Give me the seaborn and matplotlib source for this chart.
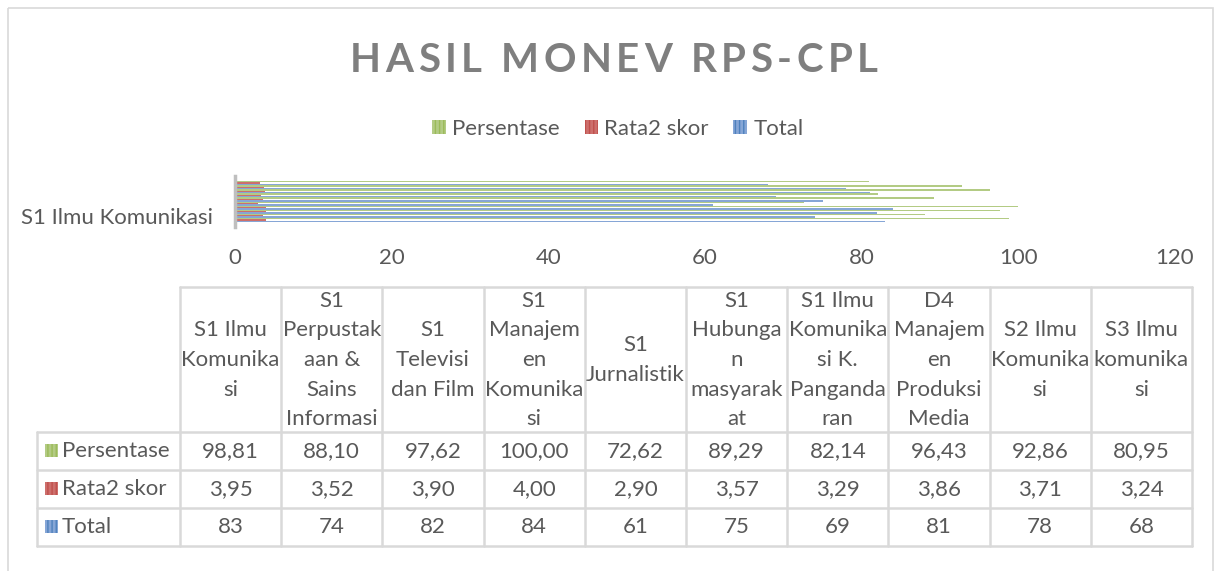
import numpy as np
import pandas as pd
import matplotlib
matplotlib.use("Agg")
import matplotlib.pyplot as plt
import seaborn as sns
from matplotlib.patches import Patch, Rectangle

# data
programs = [
    "S1 Ilmu Komunikasi", "S1 Perpustakaan & Sains Informasi", "S1 Televisi dan Film",
    "S1 Manajemen Komunikasi", "S1 Jurnalistik", "S1 Hubungan masyarakat",
    "S1 Ilmu Komunikasi K. Pangandaran", "D4 Manajemen Produksi Media",
    "S2 Ilmu Komunikasi", "S3 Ilmu komunikasi",
]
header_labels = [
    "S1 Ilmu\nKomunika\nsi", "S1\nPerpustak\naan &\nSains\nInformasi", "S1\nTelevisi\ndan Film",
    "S1\nManajem\nen\nKomunika\nsi", "S1\nJurnalistik", "S1\nHubunga\nn\nmasyarak\nat",
    "S1 Ilmu\nKomunika\nsi K.\nPanganda\nran", "D4\nManajem\nen\nProduksi\nMedia",
    "S2 Ilmu\nKomunika\nsi", "S3 Ilmu\nkomunika\nsi",
]
persentase = [98.81, 88.10, 97.62, 100.00, 72.62, 89.29, 82.14, 96.43, 92.86, 80.95]
rata2_skor = [3.95, 3.52, 3.90, 4.00, 2.90, 3.57, 3.29, 3.86, 3.71, 3.24]
total = [83, 74, 82, 84, 61, 75, 69, 81, 78, 68]
series_names = ["Persentase", "Rata2 skor", "Total"]
category = "S1 Ilmu Komunikasi"
title = "HASIL MONEV RPS-CPL"

colors = {"Persentase": "#b3cb84", "Rata2 skor": "#cd6f6c", "Total": "#86a6d6"}
dark = {"Persentase": "#9bbb59", "Rata2 skor": "#c0504d", "Total": "#4f81bd"}
text_c = "#595959"
line_c = "#d9d9d9"
FS = 16

values = dict(zip(series_names, [persentase, rata2_skor, total]))
rows = []
for i in reversed(range(len(programs))):
    for s in series_names:
        rows.append({"cat": category, "key": f"{programs[i]}|{s}", "series": s, "value": values[s][i]})
df = pd.DataFrame(rows)
hue_order = list(df["key"])
palette = {k: colors[k.split("|")[1]] for k in hue_order}

sns.set_theme(style="white")
plt.rcParams["font.family"] = ["Lato", "DejaVu Sans"]

W, H = 1220, 571
fig = plt.figure(figsize=(W / 100, H / 100), dpi=100)

# background axes in pixel coords for the frame and data table
tab = fig.add_axes([0, 0, 1, 1])
tab.set_xlim(0, W)
tab.set_ylim(H, 0)
tab.axis("off")
tab.add_patch(Rectangle((8, 8), 1205, 600, fill=False, edgecolor=line_c, lw=1.2))

# bar area
x0, x1 = 235, 1175
y_top, y_bot = 176, 227
ax = fig.add_axes([x0 / W, 1 - y_bot / H, (x1 - x0) / W, (y_bot - y_top) / H])
sns.barplot(data=df, x="value", y="cat", hue="key", hue_order=hue_order,
            palette=palette, orient="h", width=0.8, legend=False, ax=ax,
            linewidth=0, saturation=1)
ax.set_xlim(0, 120)
ax.set_ylim(0.5, -0.5)
ax.set_xticks(np.arange(0, 121, 20))
ax.tick_params(axis="x", length=0, pad=15, labelsize=FS, labelcolor=text_c)
ax.set_yticks([])
ax.set_xlabel("")
ax.set_ylabel("")
for sp in ["top", "right", "bottom"]:
    ax.spines[sp].set_visible(False)
ax.spines["left"].set_color("#bfbfbf")
ax.spines["left"].set_linewidth(2.5)
ax.patch.set_alpha(0)

fig.text(213 / W, 1 - 218 / H, category, ha="right", va="center", fontsize=FS, color=text_c)

# title with Excel-like letter spacing
renderer = fig.canvas.get_renderer()
title_kw = dict(fontsize=29, fontweight="bold", color="#7f7f7f", va="center", ha="left")
widths = []
for ch in title:
    if ch == " ":
        widths.append(None)
        continue
    t = tab.text(0, 0, ch, **title_kw)
    widths.append(t.get_window_extent(renderer).width)
    t.remove()
space_w = 10
gap = 4.5
full = sum(w if w is not None else space_w for w in widths) + gap * (len(title) - 1)
x = 614 - full / 2
for ch, w in zip(title, widths):
    if w is None:
        x += space_w + gap
        continue
    tab.text(x, 60, ch, **title_kw)
    x += w + gap

handles = [Patch(facecolor=colors[s], edgecolor=dark[s], hatch="||||", lw=0) for s in series_names]
fig.legend(handles, series_names, loc="center", bbox_to_anchor=(618 / W, 1 - 129 / H), ncol=3,
           frameon=False, fontsize=FS, labelcolor=text_c, handlelength=0.6, handleheight=0.6,
           handletextpad=0.3, columnspacing=1.1)

# data table
col_x = np.linspace(180, 1192, len(programs) + 1)
row_y = [432, 470, 508, 546]
lw = 1.8
tab.plot([180, 1192], [287, 287], color=line_c, lw=lw)
for y in row_y:
    tab.plot([37, 1192], [y, y], color=line_c, lw=lw)
for x in col_x:
    tab.plot([x, x], [287, 546], color=line_c, lw=lw)
tab.plot([37, 37], [432, 546], color=line_c, lw=lw)

for i, lab in enumerate(header_labels):
    cx = (col_x[i] + col_x[i + 1]) / 2
    tab.text(cx, 360, lab, ha="center", va="center", fontsize=FS, color=text_c, linespacing=1.6)

fmt = {
    "Persentase": lambda v: f"{v:.2f}".replace(".", ","),
    "Rata2 skor": lambda v: f"{v:.2f}".replace(".", ","),
    "Total": lambda v: f"{v:d}",
}
for r, s in enumerate(series_names):
    cy = (row_y[r] + row_y[r + 1]) / 2
    tab.add_patch(Rectangle((45, cy - 7), 13, 13, facecolor=colors[s], edgecolor=dark[s],
                            hatch="||||", lw=0))
    tab.text(62, cy, s, ha="left", va="center", fontsize=FS, color=text_c)
    for i, v in enumerate(values[s]):
        cx = (col_x[i] + col_x[i + 1]) / 2
        tab.text(cx, cy, fmt[s](v), ha="center", va="center", fontsize=FS, color=text_c)

fig.savefig("out.png", dpi=100)
